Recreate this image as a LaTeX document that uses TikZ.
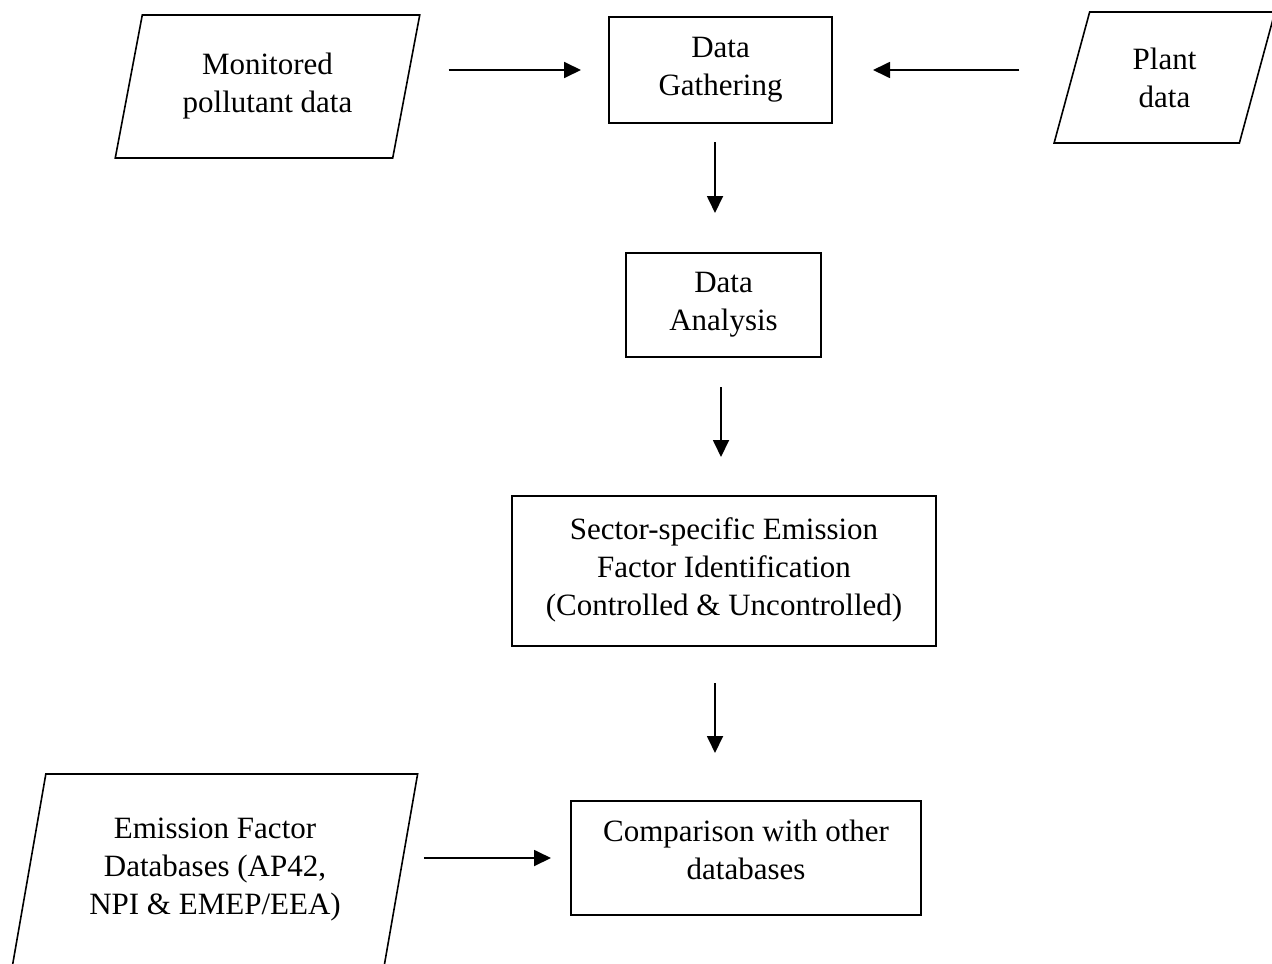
\documentclass[tikz,border=0pt]{standalone}
\usepackage{fontspec}
\setmainfont{Liberation Serif}
\usetikzlibrary{shapes.geometric,arrows.meta,positioning}
\tikzset{
  proc/.style={draw, line width=0.8pt, align=center, inner sep=2pt, outer sep=0pt,
               font=\fontsize{15.5}{19}\selectfont},
  io/.style={proc, trapezium, trapezium stretches=true,
             trapezium left angle=#1, trapezium right angle=180-#1},
  flow/.style={-{Triangle[length=8.5pt,width=8pt]}, line width=0.9pt}
}
\begin{document}
\begin{tikzpicture}[x=0.5pt,y=-0.5pt]
  \clip (0,0) rectangle (1272,963);
  % inputs
  \node[io=75.5, minimum width=152.5pt, minimum height=71.5pt] (mon) at (267.5,86.5) {Monitored\\pollutant data};
  \node[io=75.9, minimum width=110.5pt, minimum height=65.5pt] (plant) at (1164.5,77.5) {Plant\\data};
  \node[io=77, minimum width=203pt, minimum height=96pt] (emis) at (215,870) {Emission Factor\\Databases (AP42,\\NPI \& EMEP/EEA)};
  % process steps
  \node[proc, minimum width=111.5pt, minimum height=53pt] (gath) at (720.5,70) {Data\\Gathering};
  \node[proc, minimum width=97.5pt, minimum height=52pt] (anal) at (723.5,305) {Data\\Analysis};
  \node[proc, minimum width=212pt, minimum height=75pt] (sect) at (724,571) {Sector-specific Emission\\Factor Identification\\(Controlled \& Uncontrolled)\\[-15pt]};
  \node[proc, minimum width=175pt, minimum height=57pt] (comp) at (746,858) {Comparison with other\\databases\\[-11pt]};
  % arrows
  \draw[flow, shorten <=21.25pt, shorten >=14pt] (mon.east |- gath.west) -- (gath.west);
  \draw[flow, shorten <=26.25pt, shorten >=20.5pt] (plant.west |- gath.east) -- (gath.east);
  \draw[flow, shorten <=9.5pt, shorten >=20pt] ([xshift=-2.75pt]gath.south) -- ([xshift=-2.75pt]gath.south |- anal.north);
  \draw[flow, shorten <=15pt, shorten >=19.5pt] ([xshift=-1.25pt]anal.south) -- ([xshift=-1.25pt]anal.south |- sect.north);
  \draw[flow, shorten <=18.5pt, shorten >=24pt] ([xshift=-4.5pt]sect.south) -- ([xshift=-4.5pt]sect.south |- comp.north);
  \draw[flow, shorten <=11.5pt, shorten >=10pt] (emis.east |- comp.west) -- (comp.west);
\end{tikzpicture}
\end{document}
